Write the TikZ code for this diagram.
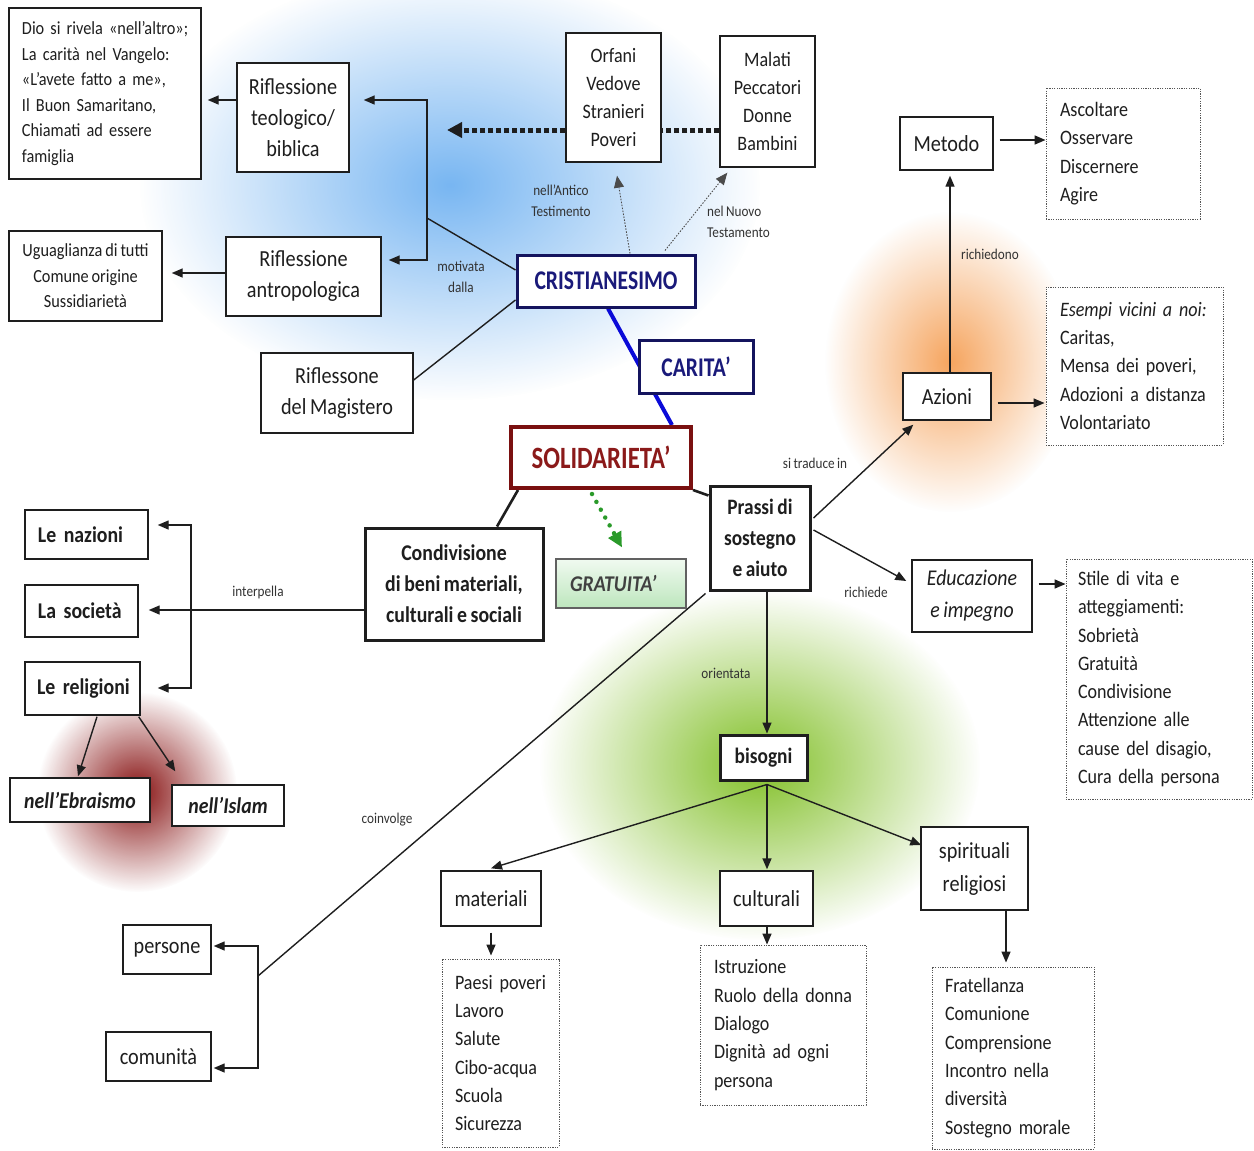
\documentclass[tikz,border=0pt]{standalone}
\usepackage{fontspec}
\setmainfont{Carlito}[FakeStretch=0.88, WordSpace=0.8]
\newfontfamily\headfont{Carlito}[FakeStretch=0.8]
\usetikzlibrary{arrows.meta,calc,fadings,backgrounds}
\definecolor{ink}{HTML}{1E1E1E}
\definecolor{navy}{HTML}{1A1A7A}
\definecolor{navyb}{HTML}{14145E}
\definecolor{blueline}{HTML}{0A0AD8}
\definecolor{dred}{HTML}{8B1A1A}
\definecolor{dredb}{HTML}{7A1010}
\definecolor{garr}{HTML}{2A9A2A}
\definecolor{gtop}{HTML}{F0FAF0}
\definecolor{gbot}{HTML}{BDE6BD}
\definecolor{glowblue}{RGB}{120,182,242}
\definecolor{gloworange}{RGB}{246,165,95}
\definecolor{glowgreen}{RGB}{130,192,40}
\definecolor{glowred}{RGB}{135,18,18}
\definecolor{labgray}{HTML}{333333}
\tikzfading[name=glowfade, inner color=transparent!0, outer color=transparent!100]
\newcommand\szBig{\fontsize{23}{31}\selectfont}
\newcommand\szMid{\fontsize{20.5}{28.3}\selectfont}
\newcommand\szDio{\fontsize{18.5}{25.6}\selectfont}
\newcommand\szLab{\fontsize{15}{21}\selectfont}
\newcommand\szBold{\fontsize{22.5}{31}\selectfont\bfseries}
\newcommand\szHead{\headfont\bfseries\fontsize{27}{30}\selectfont}
\newcommand\szHeadL{\headfont\bfseries\fontsize{31}{34}\selectfont}
\newcommand\LS[1]{\leftskip=#1pt\relax}
\hyphenpenalty=10000
\exhyphenpenalty=10000
\begin{document}
\begin{tikzpicture}[x=1pt,y=-1pt,
  box/.style={draw=ink, line width=1.4pt, fill=white, inner sep=0pt, align=center, text=ink, font=\szBig},
  lbox/.style={box, align=left, inner xsep=0pt},
  tbox/.style={box, line width=3pt, font=\szBold},
  dbox/.style={draw=ink!75, line width=0.9pt, dash pattern=on 1.2pt off 1.2pt, fill=white, inner sep=0pt, align=left, text=ink, font=\szMid},
  lab/.style={font=\szLab, text=labgray, align=center, inner sep=0pt},
  arr/.style={draw=ink, line width=1.4pt, -{Triangle[length=11pt,width=9pt]}},
  ln/.style={draw=ink, line width=1.4pt},
  thn/.style={draw=ink, line width=2.6pt},
  dotarr/.style={draw=ink!80, line width=0.9pt, dash pattern=on 1.5pt off 1.5pt, -{Triangle[length=12pt,width=10pt]}},
  bigdot/.style={draw=ink, line width=5pt, dash pattern=on 5pt off 3pt},
  glow/.style={path fading=glowfade}
]
\useasboundingbox (0,0) rectangle (1254,1151);
\begin{pgfonlayer}{background}
  \fill[white] (0,0) rectangle (1254,1151);
  \fill[glowblue, glow] (450,185) ellipse [x radius=310pt, y radius=215pt];
  \fill[gloworange, glow] (950,362) ellipse [x radius=125pt, y radius=150pt];
  \fill[glowgreen, glow] (760,765) ellipse [x radius=220pt, y radius=175pt];
  \fill[glowred, glow] (137,792) ellipse [x radius=100pt, y radius=100pt];
\end{pgfonlayer}

% ---- top left
\node[lbox, font=\szDio, minimum width=192pt, minimum height=171pt, text width=192pt] (dio) at (105,93.5)
  {\LS{13}Dio si rivela «nell’altro»;\\La carità nel Vangelo:\\«L’avete fatto a me»,\\Il Buon Samaritano,\\Chiamati ad essere\\famiglia\par};
\node[box, minimum width=112pt, minimum height=109pt] (teol) at (293,117.5) {Riflessione\\teologico/\\biblica};
\node[box, font=\szDio, minimum width=153pt, minimum height=90pt] (ugua) at (85.5,276) {Uguaglianza di tutti\\Comune origine\\Sussidiarietà};
\node[box, minimum width=155pt, minimum height=79pt] (antrop) at (303.5,276.5) {Riflessione\\antropologica};
\node[box, minimum width=152pt, minimum height=80pt] (magist) at (337,393) {Riflessone\\del Magistero};

% ---- top centre
\node[box, draw=navyb, line width=3pt, text=navy, font=\szHead, minimum width=178pt, minimum height=52pt] (crist) at (606,281) {CRISTIANESIMO};
\node[box, font=\szMid, minimum width=95pt, minimum height=129pt] (orfani) at (613.5,97.5) {Orfani\\Vedove\\Stranieri\\Poveri};
\node[box, font=\szMid, minimum width=95pt, minimum height=131pt] (malati) at (767.5,101.5) {Malati\\Peccatori\\Donne\\Bambini};
\node[box, draw=navyb, line width=3pt, text=navy, font=\szHead, minimum width=114pt, minimum height=53pt] (carita) at (696,366.5) {CARITA’};
\node[box, draw=dredb, line width=4pt, text=dred, font=\szHeadL, minimum width=180pt, minimum height=61pt] (solid) at (601,457.5) {SOLIDARIETA’};
\node[lbox, draw=ink!70, line width=1.2pt, top color=gtop, bottom color=gbot, text=ink!85, font=\szBold\itshape, text width=130pt, minimum width=130pt, minimum height=49pt] (grat) at (621,583.5) {\LS{14}GRATUITA’\par};
\node[tbox, minimum width=178pt, minimum height=112pt] (condiv) at (454,584) {Condivisione\\di beni materiali,\\culturali e sociali};
\node[tbox, font=\fontsize{22}{31}\selectfont\bfseries, minimum width=100pt, minimum height=104pt] (prassi) at (760,538) {Prassi di\\sostegno\\e aiuto};

% ---- left middle
\node[lbox, font=\szBold, minimum width=123pt, minimum height=49pt, text width=123pt] (naz) at (86.5,534.5) {\LS{13}Le nazioni\par};
\node[lbox, font=\szBold, minimum width=113pt, minimum height=52pt, text width=113pt] (soc) at (81.5,611) {\LS{13}La società\par};
\node[lbox, font=\szBold, minimum width=115pt, minimum height=53pt, text width=115pt] (relig) at (82.5,688.5) {\LS{12}Le religioni\par};
\node[box, font=\szBold\itshape, minimum width=140pt, minimum height=44pt] (ebr) at (80,800) {nell’Ebraismo};
\node[box, font=\szBold\itshape, minimum width=112pt, minimum height=41pt] (islam) at (228,805.5) {nell’Islam};

% ---- right
\node[box, minimum width=93pt, minimum height=53pt] (metodo) at (946.5,143.5) {Metodo};
\node[dbox, minimum width=154pt, minimum height=131pt, text width=154pt] (ascolt) at (1123,153.5) {\LS{14}Ascoltare\\Osservare\\Discernere\\Agire\par};
\node[box, minimum width=88pt, minimum height=47pt] (azioni) at (947,396.5) {Azioni};
\node[dbox, minimum width=177pt, minimum height=158pt, text width=177pt] (esempi) at (1134.5,366) {\LS{14}\textit{Esempi vicini a noi:}\\Caritas,\\Mensa dei poveri,\\Adozioni a distanza\\Volontariato\par};
\node[box, font=\fontsize{22.5}{32}\selectfont\itshape, minimum width=120pt, minimum height=72pt] (educ) at (972,596) {Educazione\\e impegno};
\node[dbox, minimum width=186pt, minimum height=240pt, text width=186pt] (stile) at (1159,679) {\LS{12}Stile di vita e\\atteggiamenti:\\Sobrietà\\Gratuità\\Condivisione\\Attenzione alle\\cause del disagio,\\Cura della persona\par};

% ---- bottom
\node[tbox, font=\fontsize{22}{28}\selectfont\bfseries, minimum width=87pt, minimum height=45pt] (bisogni) at (763.5,757.5) {bisogni};
\node[box, minimum width=100pt, minimum height=55pt] (mater) at (491,898.5) {materiali};
\node[box, minimum width=93pt, minimum height=55pt] (cultur) at (766.5,898.5) {culturali};
\node[box, font=\fontsize{23}{33}\selectfont, minimum width=107pt, minimum height=83pt] (spirit) at (974.5,868.5) {spirituali\\religiosi};
\node[dbox, minimum width=117pt, minimum height=188pt, text width=117pt] (paesi) at (500.5,1053) {\LS{13}Paesi poveri\\Lavoro\\Salute\\Cibo-acqua\\Scuola\\Sicurezza\par};
\node[dbox, minimum width=166pt, minimum height=160pt, text width=166pt] (istr) at (783,1025) {\LS{14}Istruzione\\Ruolo della donna\\Dialogo\\Dignità ad ogni\\persona\par};
\node[dbox, minimum width=162pt, minimum height=182pt, text width=162pt] (frat) at (1013,1058) {\LS{13}Fratellanza\\Comunione\\Comprensione\\Incontro nella\\diversità\\Sostegno morale\par};
\node[box, minimum width=88pt, minimum height=49pt] (persone) at (167,949.5) {persone};
\node[box, minimum width=105pt, minimum height=49pt] (comun) at (158.5,1056.5) {comunità};

% ---- named free ends
\coordinate (jb) at (427,218);
\coordinate (bt) at (427,100);
\coordinate (bb) at (427,260);
\coordinate (tipd) at (447,130);
\coordinate (ib) at (191,610);
\coordinate (iT) at (191,525);
\coordinate (iB) at (191,688);
\coordinate (cj) at (258,976);
\coordinate (cT) at (258,946);
\coordinate (cB) at (258,1068);

% ---- labels
\node[lab] (lmot) at (461,277) {motivata\\dalla};
\node[lab] (lant) at (561,201) {nell’Antico\\Testimento};
\node[lab, anchor=west, align=left] (lnuo) at (707,222) {nel Nuovo\\Testamento};
\node[lab] (lric) at (990,254) {richiedono};
\node[lab] (ltra) at (815,463) {si traduce in};
\node[lab] (lrde) at (866,592) {richiede};
\node[lab] (lori) at (726,673) {orientata};
\node[lab] (lint) at (258,592) {interpella};
\node[lab] (lcoi) at (387,820) {coinvolge};

\begin{pgfonlayer}{background}
  % top left
  \draw[arr] ($(teol.west)+(0,-17.5)$) -- ($(dio.east)+(6,6.5)$);
  \draw[arr] ($(antrop.west)+(0,-3.5)$) -- ($(ugua.east)+(9,-3)$);
  \draw[ln] ($(crist.west)+(0,-11)$) -- (jb);
  \draw[arr] (jb) -- (bt) -- ($(teol.east)+(14,-17.5)$);
  \draw[arr] (jb) -- (bb) -- ($(antrop.east)+(7,-16.5)$);
  \draw[ln] ($(magist.east)+(0,-13)$) -- ($(crist.west)+(0,19)$);
  % top centre
  \draw[dotarr] ($(crist.north)+(24,0)$) -- ($(orfani.south)+(3.5,13)$);
  \draw[dotarr] ($(crist.north)+(59,-3)$) -- ($(malati.south west)+(8,5)$);
  \draw[bigdot] ($(malati.west)+(0,28.5)$) -- ($(orfani.east)+(0,32.5)$);
  \draw[bigdot, -{Triangle[length=15pt,width=15pt]}] ($(orfani.west)+(0,32.5)$) -- (tipd);
  \draw[blueline, line width=4pt] ($(crist.south)+(2,0)$) -- ($(solid.north)+(71,0)$);
  \draw[garr, line width=4.5pt, line cap=round, dash pattern=on 0pt off 9pt, -{Triangle[length=15pt,width=14pt]}] ($(solid.south)+(-9,4)$) -- ($(grat.north)+(1,-11)$);
  \draw[thn] ($(solid.south west)+(9,0)$) -- ($(condiv.north)+(43,0)$);
  \draw[thn] (solid.south east) -- ($(prassi.north west)+(0,11)$);
  % left middle
  \draw[arr] ($(condiv.west)+(0,26)$) -- ($(soc.east)+(10,-1)$);
  \draw[arr] (ib) -- (iT) -- ($(naz.east)+(9,-9.5)$);
  \draw[arr] (ib) -- (iB) -- ($(relig.east)+(17,-0.5)$);
  \draw[arr] ($(relig.south)+(14.5,1)$) -- ($(ebr.north)+(-2,-1)$);
  \draw[arr] ($(relig.south east)+(-2,1)$) -- ($(islam.north west)+(4,-13)$);
  % right
  \draw[arr] ($(prassi.east)+(2,-20)$) -- ($(azioni.south west)+(11,4)$);
  \draw[arr] ($(prassi.east)+(2,-8)$) -- ($(educ.west)+(-5,-15)$);
  \draw[arr] ($(azioni.north)+(3,0)$) -- ($(metodo.south)+(3.5,5)$);
  \draw[arr] ($(metodo.east)+(6,-3.5)$) -- ($(ascolt.west)+(0,-13.5)$);
  \draw[arr] ($(azioni.east)+(6,6.5)$) -- ($(esempi.west)+(-1,37)$);
  \draw[arr] ($(educ.east)+(6,-12)$) -- ($(stile.west)+(0,-95)$);
  % bottom
  \draw[arr] ($(prassi.south)+(7,0)$) -- ($(bisogni.north)+(3.5,0)$);
  \draw[arr] ($(bisogni.south)+(3.5,3)$) -- ($(mater.north)+(0,-2)$);
  \draw[arr] ($(bisogni.south)+(3.5,3)$) -- ($(cultur.north)+(0.5,-1)$);
  \draw[arr] ($(bisogni.south)+(3.5,3)$) -- ($(spirit.west)+(1,-23.5)$);
  \draw[arr] ($(mater.south)+(0,6)$) -- ($(paesi.north)+(-9.5,-3)$);
  \draw[arr] ($(cultur.south)+(0.5,-5)$) -- ($(istr.north)+(-16,0)$);
  \draw[arr] ($(spirit.south)+(31.5,0)$) -- ($(frat.north)+(-7,-4)$);
  \draw[ln] ($(prassi.south west)+(-3,2)$) -- (cj);
  \draw[arr] (cj) -- (cT) -- ($(persone.east)+(2,-3.5)$);
  \draw[arr] (cj) -- (cB) -- ($(comun.east)+(2,11.5)$);
\end{pgfonlayer}
\end{tikzpicture}
\end{document}
